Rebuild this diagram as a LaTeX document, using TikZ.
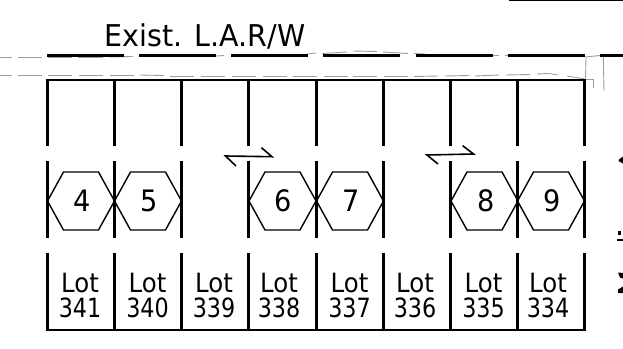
\documentclass[tikz,border=0pt]{standalone}
\usepackage{fontspec}
\setmainfont{DejaVu Sans}
\newfontfamily\titlefont[FakeStretch=0.95]{DejaVu Sans}
\newfontfamily\lotfont[FakeStretch=0.92]{DejaVu Sans}
\newfontfamily\digfont[FakeStretch=0.84]{DejaVu Sans}
\newfontfamily\numfont[FakeStretch=0.92]{DejaVu Sans}
\tikzset{
  wall/.style={line width=2.3pt,black},
  road/.style={line width=3pt,black},
  hexa/.style={line width=1.4pt,black,line join=miter},
  ghost/.style={line width=0.9pt,black!38},
  lotlbl/.style={inner sep=0pt,anchor=base,font=\lotfont\fontsize{26.5}{26.5}\selectfont,text=black},
  diglbl/.style={inner sep=0pt,anchor=base,font=\digfont\fontsize{26.5}{26.5}\selectfont,text=black},
  num/.style={inner sep=0pt,anchor=base,font=\numfont\fontsize{29.5}{29.5}\selectfont,text=black},
  turn/.style={line width=1.6pt,black,line join=miter},
}
\begin{document}
\begin{tikzpicture}[x=1pt,y=-1pt]
\useasboundingbox (0,0) rectangle (623,348);
\fill[white] (0,0) rectangle (623,348);
% top-right rule
\draw[line width=1pt,black] (509,0.5) -- (623,0.5);
% title
\node[inner sep=0pt,anchor=base west,font=\titlefont\fontsize{30}{30}\selectfont] (title) at (104.5,46) {Exist. L.A.R/W};
% ghost dashes upper
\draw[ghost] (0,57) -- (12,57);
\draw[ghost] (18,57) -- (42,57);
\draw[ghost] (48,57) -- (72,57);
\draw[ghost] (78,57) -- (103,57);
\draw[ghost] (109,57) -- (133,56.5);
\draw[ghost] (216,56) -- (224,55.5);
\draw[ghost] (300,55) -- (316,53);
\draw[ghost] (322,53.5) -- (347,52);
\draw[ghost] (353,51) -- (377,51.5);
\draw[ghost] (383,52) -- (408,53.5);
\draw[ghost] (414,53.5) -- (425,54);
\draw[ghost] (493,55.5) -- (499,55.5);
\draw[ghost] (505,55.5) -- (508,55.5);
\draw[ghost] (585,57) -- (600,55.5);
% ghost dashes lower
\draw[ghost] (0,75) -- (12,75);
\foreach \a/\ya/\yb in {18/75/75,48/75/75,79/75/75,110/75/75,140/75/75.5,170/76/76,201/76/76,232/76/76,263/76/76,293/76/76,324/76/76,353/76/76,384/76.5/76.5,414/76.5/76}
  \draw[ghost] (\a,\ya) -- (\a+24,\yb);
\draw[ghost] (445,76) -- (469,75.5);
\draw[ghost] (475,76) -- (499,75);
\draw[ghost] (506,75) -- (530,74.5);
\draw[ghost] (537,74) -- (549,73.5) -- (558,75);
\draw[ghost] (567,76) -- (585,79);
% curb returns
\draw[ghost] (586,57) -- (585.5,78);
\draw[ghost] (585,79) -- (593,79) -- (593,88);
\draw[ghost] (603.3,57) -- (604,91);
% LA R/W line
\foreach \a/\b [count=\k] in {47/124,139/216,231/308,323/400,416/493,508/585,600/623}{
  \coordinate (ra\k) at (\a,55.5);
  \coordinate (rb\k) at (\b,55.5);
  \draw[road] (ra\k) -- (rb\k);
}
% lots
\foreach \x [count=\i] in {47.5,114.5,181.5,248.5,316.5,383.5,450.5,517.5,584.5}{
  \coordinate (t\i) at (\x,80.3);
  \coordinate (u\i) at (\x,145.5);
  \coordinate (v\i) at (\x,161);
  \coordinate (w\i) at (\x,237.7);
  \coordinate (y\i) at (\x,253);
  \coordinate (z\i) at (\x,330.3);
  \draw[wall] (t\i) -- (u\i);
  \draw[wall] (v\i) -- (w\i);
  \draw[wall] (y\i) -- (z\i);
}
\draw[wall,line cap=rect] (t1) -- (t9);
\draw[wall,line cap=rect] (z1) -- (z9);
% hexagons
\foreach \l/\n/\hx/\tx in {4/hfour/81/82,5/hfive/148/149.5,6/hsix/282.5/283.5,7/hseven/350/351,8/height/484.5/486,9/hnine/551/552}{
  \draw[hexa] (\hx-33.5,201) -- (\hx-17.5,172) -- (\hx+17.5,172) -- (\hx+33.5,201) -- (\hx+17.5,230) -- (\hx-17.5,230) -- cycle;
  \node[num] (\n) at (\tx,211.7) {\l};
}
% lot labels
\foreach \a/\b/\cx in {341/la/80,340/lb/147.5,339/lc/214,338/ld/279,337/le/349.5,336/lf/415,335/lg/483.5,334/lh/548}{
  \node[lotlbl] (\b a) at (\cx,292.7) {Lot};
  \node[diglbl] (\b b) at (\cx,317) {\a};
}
% turn arrows
\draw[turn] (236,166) -- (225.5,156) -- (272,156.7) -- (261.5,147.7);
\draw[turn] (438,164) -- (427,155) -- (473.5,154) -- (462.7,145.7);
% cropped glyph bits at right edge
\fill[black] (623,156.5) -- (619,159.5) -- (618.5,161) -- (623,163.5) -- cycle;
\fill[black] (618,231) rectangle (621,235);
\fill[black] (617,239) rectangle (623,241);
\fill[black] (618,272.5) -- (623,273) -- (623,278.5) -- (620,277.5) -- cycle;
\fill[black] (618,289.5) -- (623,286.5) -- (623,293) -- (618,293) -- cycle;
\end{tikzpicture}
\end{document}
